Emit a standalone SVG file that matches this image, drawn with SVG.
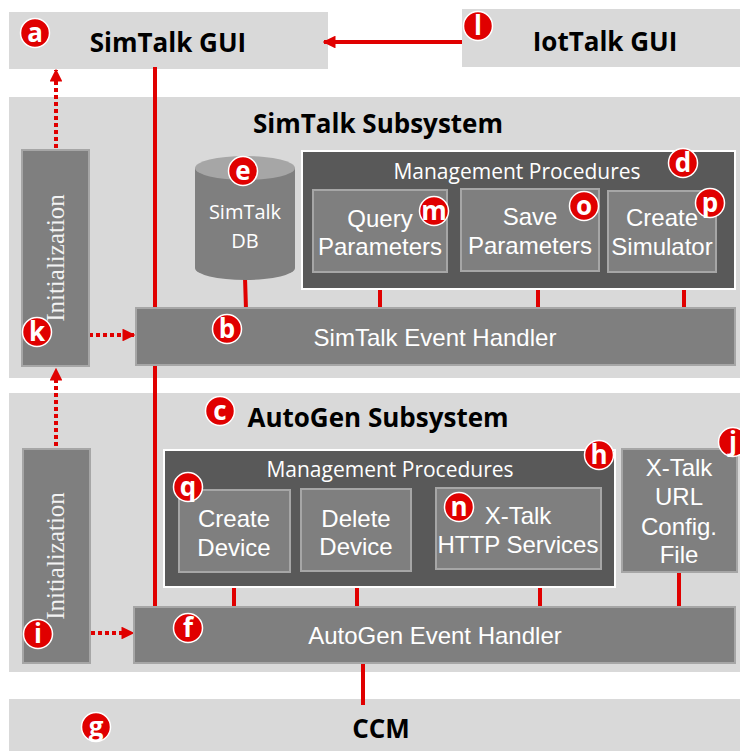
<svg xmlns="http://www.w3.org/2000/svg" width="740" height="751" viewBox="0 0 740 751">
<style>
.bg{fill:#d9d9d9}
.mid{fill:#7f7f7f;stroke:#a6a6a6;stroke-width:2}
.dark{fill:#595959;stroke:#ffffff;stroke-width:2}
.title{font-family:"Open Sans","Noto Sans",sans-serif;font-weight:bold;font-size:26px;fill:#000;text-anchor:middle}
.mp{font-family:"Open Sans","Noto Sans",sans-serif;font-size:21px;fill:#fff;text-anchor:middle}
.lbl{font-family:"Liberation Sans",Arial,sans-serif;font-size:24px;fill:#fff;text-anchor:middle}
.eh{font-family:"Liberation Sans",Arial,sans-serif;font-size:24px;fill:#fff;text-anchor:middle}
.init{font-family:"Liberation Serif","Times New Roman",serif;font-size:25px;fill:#f2f2f2;text-anchor:middle}
.db{font-family:"Open Sans","Noto Sans",sans-serif;font-size:20px;fill:#fff;text-anchor:middle}
.red{stroke:#e00000;stroke-width:4;fill:none}
.dot{stroke:#e00000;stroke-width:4;fill:none;stroke-dasharray:4 3}
.badge circle{fill:#e00000;stroke:#fff;stroke-width:1.5}
.badge text{font-family:"Open Sans","Noto Sans",sans-serif;font-weight:bold;font-size:26px;fill:#fff;text-anchor:middle}
</style>
<defs>
<marker id="ah" viewBox="0 0 10 10" refX="9" refY="5" markerWidth="3.2" markerHeight="3.2" orient="auto" markerUnits="strokeWidth">
<path d="M0,0 L10,5 L0,10 z" fill="#e00000"/>
</marker>
</defs>

<!-- backgrounds -->
<g id="simtalk-gui"><rect class="bg" x="9" y="12" width="319" height="57"/><text class="title" x="168" y="52">SimTalk GUI</text></g>
<g id="iottalk-gui"><rect class="bg" x="462" y="9" width="278" height="58"/><text class="title" x="605" y="51">IotTalk GUI</text></g>
<g id="simtalk-subsystem"><rect class="bg" x="9" y="97" width="731" height="281"/><text class="title" x="378" y="133">SimTalk Subsystem</text></g>
<g id="autogen-subsystem"><rect class="bg" x="9" y="393" width="731" height="279"/><text class="title" x="378" y="427">AutoGen Subsystem</text></g>
<g id="ccm"><rect class="bg" x="9" y="699" width="731" height="52"/><text class="title" x="381" y="738">CCM</text></g>

<!-- connectors -->
<g id="connectors">
<line class="red" x1="462" y1="42" x2="324" y2="42" marker-end="url(#ah)"/>
<line class="red" x1="155" y1="67" x2="155" y2="607"/>
<line class="dot" x1="56" y1="155" x2="56" y2="70" marker-end="url(#ah)"/>
<line class="dot" x1="82" y1="335" x2="134" y2="335" marker-end="url(#ah)"/>
<line class="dot" x1="56" y1="453" x2="56" y2="369" marker-end="url(#ah)"/>
<line class="dot" x1="84" y1="633" x2="133" y2="633" marker-end="url(#ah)"/>
<line class="red" x1="245" y1="278" x2="246" y2="309"/>
<line class="red" x1="380" y1="272" x2="380" y2="309"/>
<line class="red" x1="538" y1="271" x2="538" y2="309"/>
<line class="red" x1="684" y1="272" x2="684" y2="309"/>
<line class="red" x1="234" y1="572" x2="234" y2="608"/>
<line class="red" x1="357" y1="571" x2="357" y2="608"/>
<line class="red" x1="540" y1="569" x2="540" y2="608"/>
<line class="red" x1="679" y1="572" x2="679" y2="608"/>
<line class="red" x1="363" y1="663" x2="363" y2="705"/>
</g>

<!-- SimTalk subsystem nodes -->
<g id="init-simtalk"><rect class="mid" x="22" y="150" width="67" height="216"/><text class="init" transform="translate(56,258) rotate(-90)" dy="8">Initialization</text></g>
<g id="simtalk-db">
<path d="M195,168 L195,268 A50,12 0 0 0 295,268 L295,168 Z" fill="#7f7f7f"/>
<ellipse cx="245" cy="168" rx="50" ry="12" fill="#a6a6a6"/>
<text class="db" x="245" y="219">SimTalk</text>
<text class="db" x="245" y="248">DB</text>
</g>
<g id="simtalk-event-handler"><rect class="mid" x="136" y="308" width="599" height="57"/><text class="eh" x="435" y="346">SimTalk Event Handler</text></g>
<g id="simtalk-mgmt"><rect class="dark" x="302" y="151" width="433" height="138"/><text class="mp" x="517" y="179">Management Procedures</text></g>
<g id="query-params"><rect class="mid" x="313" y="190" width="134" height="82"/><text class="lbl" x="380" y="227">Query</text><text class="lbl" x="380" y="255">Parameters</text></g>
<g id="save-params"><rect class="mid" x="461" y="189" width="138" height="82"/><text class="lbl" x="530" y="225">Save</text><text class="lbl" x="530" y="254">Parameters</text></g>
<g id="create-simulator"><rect class="mid" x="608" y="191" width="108" height="81"/><text class="lbl" x="662" y="226">Create</text><text class="lbl" x="662" y="255">Simulator</text></g>

<!-- AutoGen subsystem nodes -->
<g id="init-autogen"><rect class="mid" x="23" y="449" width="67" height="214"/><text class="init" transform="translate(56,556) rotate(-90)" dy="8">Initialization</text></g>
<g id="autogen-event-handler"><rect class="mid" x="134" y="607" width="601" height="56"/><text class="eh" x="435" y="644">AutoGen Event Handler</text></g>
<g id="autogen-mgmt"><rect class="dark" x="164" y="450" width="451" height="137"/><text class="mp" x="390" y="477">Management Procedures</text></g>
<g id="create-device"><rect class="mid" x="179" y="490" width="111" height="82"/><text class="lbl" x="234" y="527">Create</text><text class="lbl" x="234" y="556">Device</text></g>
<g id="delete-device"><rect class="mid" x="301" y="489" width="110" height="82"/><text class="lbl" x="356" y="527">Delete</text><text class="lbl" x="356" y="555">Device</text></g>
<g id="xtalk-http"><rect class="mid" x="436" y="488" width="165" height="81"/><text class="lbl" x="518" y="524">X-Talk</text><text class="lbl" x="518" y="553">HTTP Services</text></g>
<g id="xtalk-url"><rect class="mid" x="622" y="449" width="115" height="123"/><text class="lbl" x="679" y="476">X-Talk</text><text class="lbl" x="679" y="505">URL</text><text class="lbl" x="679" y="535">Config.</text><text class="lbl" x="679" y="563">File</text></g>

<!-- badges -->
<g id="badges">
<g class="badge"><circle cx="35" cy="33" r="14.5"/><text x="35" y="42">a</text></g>
<g class="badge"><circle cx="227" cy="329" r="14.5"/><text x="227" y="338">b</text></g>
<g class="badge"><circle cx="220" cy="411" r="14.5"/><text x="220" y="420">c</text></g>
<g class="badge"><circle cx="683" cy="163" r="14.5"/><text x="683" y="172">d</text></g>
<g class="badge"><circle cx="243" cy="171" r="14.5"/><text x="243" y="180">e</text></g>
<g class="badge"><circle cx="188" cy="628" r="14.5"/><text x="188" y="637">f</text></g>
<g class="badge"><circle cx="96" cy="727" r="14.5"/><text x="96" y="736">g</text></g>
<g class="badge"><circle cx="599" cy="455" r="14.5"/><text x="599" y="464">h</text></g>
<g class="badge"><circle cx="38" cy="634" r="14.5"/><text x="38" y="643">i</text></g>
<g class="badge"><circle cx="733" cy="442" r="14.5"/><text x="733" y="451">j</text></g>
<g class="badge"><circle cx="37" cy="332" r="14.5"/><text x="37" y="341">k</text></g>
<g class="badge"><circle cx="478" cy="26" r="14.5"/><text x="478" y="35">l</text></g>
<g class="badge"><circle cx="434" cy="211" r="14.5"/><text x="434" y="220">m</text></g>
<g class="badge"><circle cx="459" cy="507" r="14.5"/><text x="459" y="516">n</text></g>
<g class="badge"><circle cx="584" cy="206" r="14.5"/><text x="584" y="215">o</text></g>
<g class="badge"><circle cx="710" cy="203" r="14.5"/><text x="710" y="212">p</text></g>
<g class="badge"><circle cx="188" cy="487" r="14.5"/><text x="188" y="496">q</text></g>
</g>
</svg>
